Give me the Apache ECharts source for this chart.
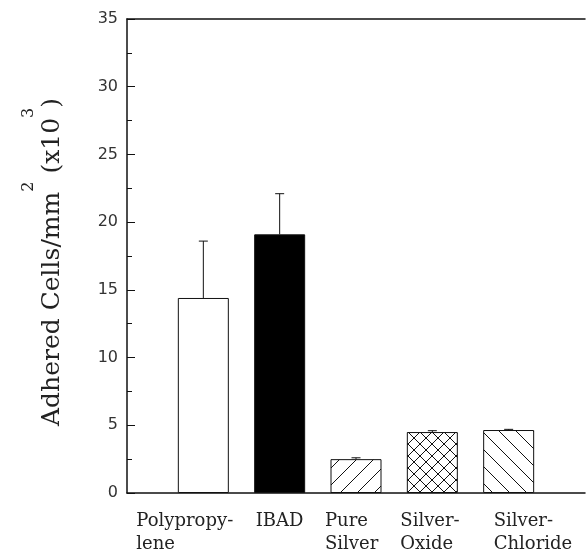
<!DOCTYPE html>
<html>
<head>
<meta charset="utf-8">
<script src="https://cdn.jsdelivr.net/npm/echarts@6/dist/echarts.min.js"></script>
<style>
    html, body { margin: 0; padding: 0; background: #fff; }
    #chart { width: 588px; height: 556px; }
</style>
</head>
<body>
<div id="chart"></div>
<script>
// categories (blank slots at both ends keep the spacing of the original)
var categories = ['', 'Polypropy-\nlene', 'IBAD', 'Pure\nSilver', 'Silver-\nOxide', 'Silver-\nChloride', ''];
var means = [14.4, 19.1, 2.5, 4.5, 4.65];
var errors = [4.2, 3.0, 0.1, 0.1, 0.05];
var yMin = 0, yMax = 35, yStep = 5;

// fill patterns
function makePattern(kind, size) {
    var c = document.createElement('canvas');
    c.width = size;
    c.height = size;
    var ctx = c.getContext('2d');
    ctx.fillStyle = '#fff';
    ctx.fillRect(0, 0, size, size);
    ctx.strokeStyle = '#111';
    ctx.lineWidth = 1;
    ctx.beginPath();
    if (kind === 'fwd' || kind === 'cross') {
        ctx.moveTo(-1, size + 1); ctx.lineTo(size + 1, -1);
        ctx.moveTo(-1, 1); ctx.lineTo(1, -1);
        ctx.moveTo(size - 1, size + 1); ctx.lineTo(size + 1, size - 1);
    }
    if (kind === 'back' || kind === 'cross') {
        ctx.moveTo(-1, -1); ctx.lineTo(size + 1, size + 1);
        ctx.moveTo(size - 1, -1); ctx.lineTo(size + 1, 1);
        ctx.moveTo(-1, size - 1); ctx.lineTo(1, size + 1);
    }
    ctx.stroke();
    return {image: c, repeat: 'repeat'};
}

var fills = ['#fff', '#000', makePattern('fwd', 17), makePattern('cross', 12), makePattern('back', 17)];

var barData = means.map(function (v, i) {
    return {
        value: [i + 1, v],
        itemStyle: {color: fills[i], borderColor: '#111', borderWidth: 1}
    };
});
var errData = means.map(function (v, i) {
    return [i + 1, v, v + errors[i]];
});

// left offsets of the x labels, per category
var labelPads = [0, 28, 71, 64, 63, 80, 0];
var rich = {};
labelPads.forEach(function (p, i) {
    rich['c' + i] = {
        fontFamily: 'DejaVu Serif',
        fontSize: 18,
        color: '#222',
        align: 'left',
        lineHeight: 23,
        padding: [0, 0, 0, p]
    };
});

var myChart = echarts.init(document.getElementById('chart'));
var option = {
    animation: false,
    grid: {left: 127, right: 0, top: 19, bottom: 63},
    xAxis: [
        {
            type: 'category',
            data: categories,
            boundaryGap: false,
            axisLine: {lineStyle: {color: '#111', width: 1.5}},
            axisTick: {show: false},
            axisLabel: {
                interval: 0,
                margin: 17,
                width: 190,
                overflow: 'none',
                align: 'center',
                verticalAlign: 'top',
                formatter: function (value, idx) {
                    if (!value) return '';
                    return value.split('\n').map(function (l) {
                        return '{c' + idx + '|' + l + '}';
                    }).join('\n');
                },
                rich: rich
            },
            splitLine: {show: false}
        },
        {
            type: 'category',
            data: categories,
            position: 'top',
            boundaryGap: false,
            axisLine: {lineStyle: {color: '#111', width: 1.5}},
            axisTick: {show: false},
            axisLabel: {show: false},
            splitLine: {show: false}
        }
    ],
    yAxis: {
        type: 'value',
        min: yMin,
        max: yMax,
        interval: yStep,
        axisLine: {show: true, lineStyle: {color: '#111', width: 1.5}},
        axisTick: {show: true, inside: true, length: 8, lineStyle: {color: '#111'}},
        minorTick: {show: true, splitNumber: 2, length: 5, lineStyle: {color: '#111'}},
        axisLabel: {margin: 9, fontFamily: 'DejaVu Sans', fontSize: 16, color: '#333'},
        splitLine: {show: false},
        name: '{m|Adhered Cells/mm}{s|2}{m| (x10}{s|3}{m|)}',
        nameLocation: 'middle',
        nameRotate: 90,
        nameGap: 62,
        nameTextStyle: {
            padding: [0, 12, 0, 0],
            rich: {
                m: {fontFamily: 'DejaVu Serif', fontSize: 25, color: '#222', verticalAlign: 'bottom', lineHeight: 44},
                s: {fontFamily: 'DejaVu Serif', fontSize: 16, color: '#222', verticalAlign: 'top', lineHeight: 44}
            }
        }
    },
    series: [
        {
            type: 'bar',
            data: barData,
            barWidth: 51
        },
        {
            type: 'custom',
            data: errData,
            z: 3,
            renderItem: function (params, api) {
                var top = api.coord([api.value(0), api.value(2)]);
                var base = api.coord([api.value(0), api.value(1)]);
                var style = {stroke: '#111', lineWidth: 1};
                return {
                    type: 'group',
                    children: [
                        {type: 'line', shape: {x1: top[0], y1: top[1], x2: base[0], y2: base[1]}, style: style},
                        {type: 'line', shape: {x1: top[0] - 4.5, y1: top[1], x2: top[0] + 4.5, y2: top[1]}, style: style}
                    ]
                };
            }
        }
    ]
};
myChart.setOption(option);
</script>
</body>
</html>
